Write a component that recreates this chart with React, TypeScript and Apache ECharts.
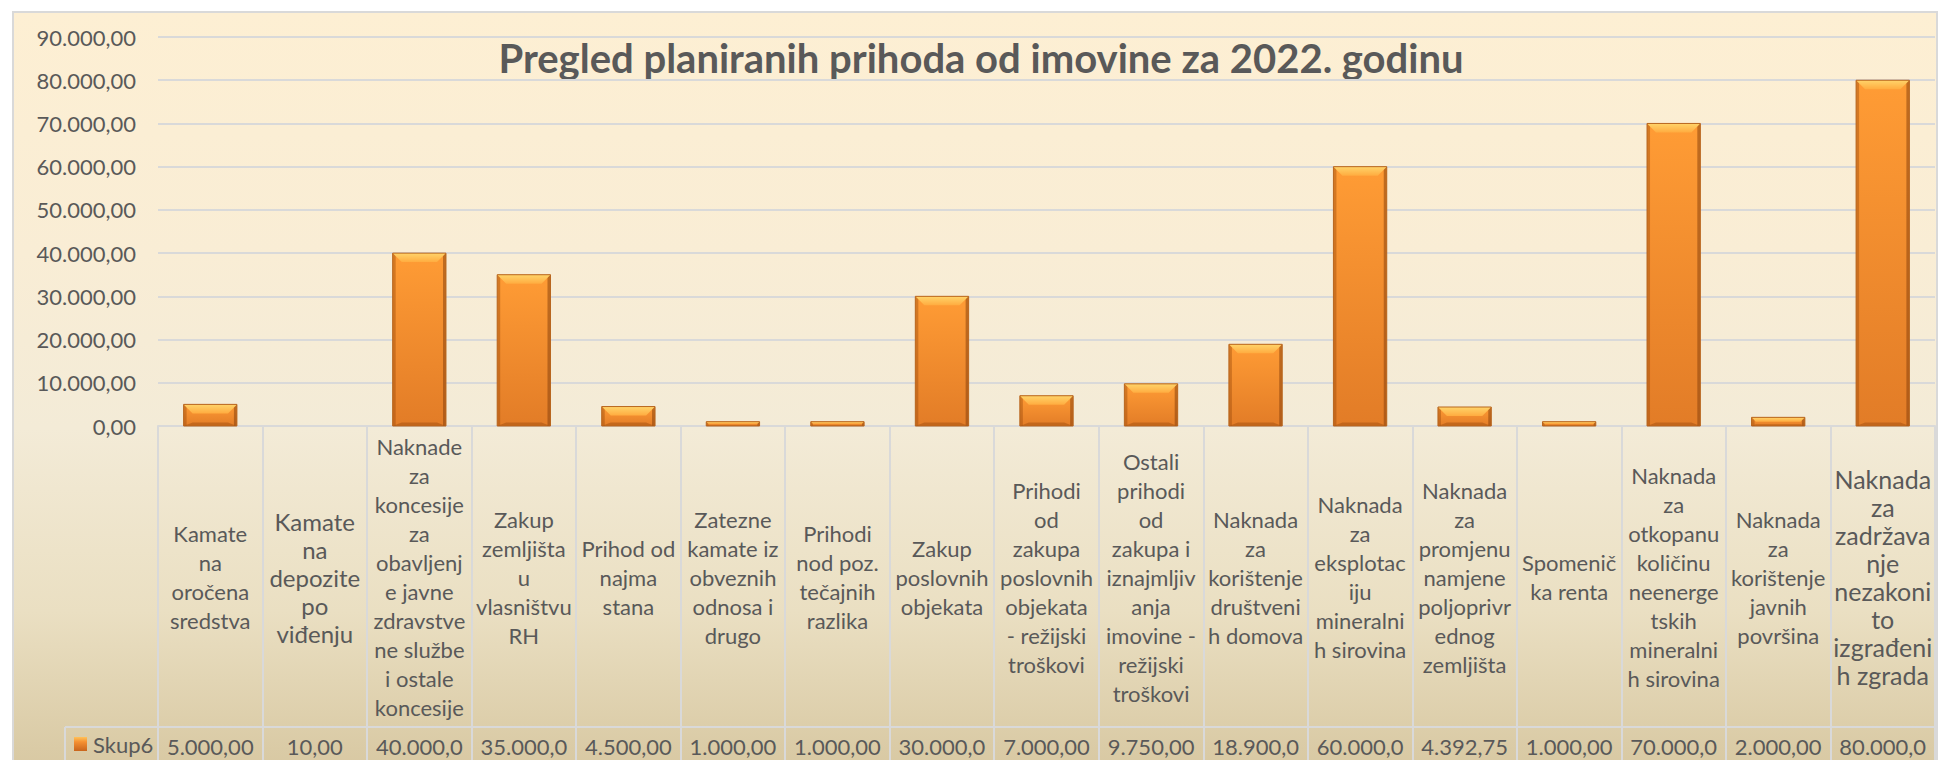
import React, { useEffect, useRef } from 'react';
import * as echarts from 'echarts';

// ---------- data ----------
const TITLE = 'Pregled planiranih prihoda od imovine za 2022. godinu';
const SERIES_NAME = 'Skup6';

const categories: string[] = [
  'Kamate\nna\noročena\nsredstva',
  'Kamate\nna\ndepozite\npo\nviđenju',
  'Naknade\nza\nkoncesije\nza\nobavljenj\ne javne\nzdravstve\nne službe\ni ostale\nkoncesije',
  'Zakup\nzemljišta\nu\nvlasništvu\nRH',
  'Prihod od\nnajma\nstana',
  'Zatezne\nkamate iz\nobveznih\nodnosa i\ndrugo',
  'Prihodi\nnod poz.\ntečajnih\nrazlika',
  'Zakup\nposlovnih\nobjekata',
  'Prihodi\nod\nzakupa\nposlovnih\nobjekata\n- režijski\ntroškovi',
  'Ostali\nprihodi\nod\nzakupa i\niznajmljiv\nanja\nimovine -\nrežijski\ntroškovi',
  'Naknada\nza\nkorištenje\ndruštveni\nh domova',
  'Naknada\nza\neksplotac\niju\nmineralni\nh sirovina',
  'Naknada\nza\npromjenu\nnamjene\npoljoprivr\nednog\nzemljišta',
  'Spomenič\nka renta',
  'Naknada\nza\notkopanu\nkoličinu\nneenerge\ntskih\nmineralni\nh sirovina',
  'Naknada\nza\nkorištenje\njavnih\npovršina',
  'Naknada\nza\nzadržava\nnje\nnezakoni\nto\nizgrađeni\nh zgrada',
];

const values: number[] = [
  5000, 10, 40000, 35000, 4500, 1000, 1000, 30000, 7000, 9750, 18900, 60000, 4392.75, 1000, 70000, 2000, 80000,
];

const Y_MIN = 0;
const Y_MAX = 90000;
const Y_STEP = 10000;

// ---------- style ----------
const FONT = 'Lato';
const TEXT = '#595959';
const LINE = '#D9D9D9';
const LABEL_SIZE = 22;
const BIG_LABELS: Record<number, number> = { 1: 24, 16: 25 };
const BAR_RATIO = 0.51;

function fmtHr(v: number): string {
  const [int, dec] = v.toFixed(2).split('.');
  return int.replace(/\B(?=(\d{3})+(?!\d))/g, '.') + ',' + dec;
}
// the data-table cell clips text that is wider than the cell
const cellText = (v: number) => fmtHr(v).slice(0, 8);

const grad = (stops: [number, string][], horizontal = false) =>
  new echarts.graphic.LinearGradient(0, 0, horizontal ? 1 : 0, horizontal ? 0 : 1,
    stops.map(([offset, color]) => ({ offset, color })));

function renderBar(_params: any, api: any) {
  const idx = api.value(0);
  const v = api.value(1);
  const top = api.coord([idx, v]);
  const base = api.coord([idx, 0]);
  const w = api.size([1, 0])[0] * BAR_RATIO;
  const x = top[0] - w / 2;
  const y = top[1];
  const h = base[1] - top[1];
  if (h < 0.6) return { type: 'group', children: [] };
  const bev = Math.min(9, h / 2);
  const side = Math.min(3, h / 2);
  return {
    type: 'group',
    children: [
      {
        type: 'rect',
        shape: { x, y, width: w, height: h },
        style: { fill: grad([[0, '#FF9C35'], [1, '#E27C27']]) },
      },
      {
        type: 'rect',
        shape: { x, y, width: side, height: h },
        style: { fill: 'rgba(150,70,10,0.4)' },
      },
      {
        type: 'rect',
        shape: { x: x + w - side, y, width: side, height: h },
        style: { fill: 'rgba(130,60,10,0.5)' },
      },
      {
        type: 'polygon',
        shape: { points: [[x, y + h], [x + bev, y + h - bev * 0.4], [x + w - bev, y + h - bev * 0.4], [x + w, y + h]] },
        style: { fill: 'rgba(120,50,0,0.3)' },
      },
      {
        type: 'polygon',
        shape: { points: [[x, y], [x + w, y], [x + w - bev, y + bev], [x + bev, y + bev]] },
        style: { fill: grad([[0, '#FFD46A'], [1, '#FFAC40']]) },
      },
      {
        type: 'rect',
        shape: { x, y, width: w, height: h },
        style: { fill: 'none', stroke: '#B8661F', lineWidth: 1 },
      },
    ],
  };
}

export default function App() {
  const ref = useRef<HTMLDivElement>(null);

  useEffect(() => {
    if (!ref.current) return;
    const chart = echarts.init(ref.current, undefined, { renderer: 'svg' });

    const labelStyle = { fontFamily: FONT, color: TEXT, fontSize: LABEL_SIZE };
    const catLabelStyle = { ...labelStyle, lineHeight: 29, verticalAlign: 'middle', align: 'center' };

    chart.setOption({
      animation: false,
      backgroundColor: '#FFFFFF',
      textStyle: { fontFamily: FONT },
      grid: { left: 158, right: 5, top: 37, bottom: 334, containLabel: false, outerBoundsMode: 'none' },
      legend: {
        data: [SERIES_NAME],
        left: 74,
        top: 733,
        padding: 0,
        icon: 'rect',
        itemWidth: 13,
        itemHeight: 14,
        textStyle: { ...labelStyle, padding: [0, 0, 0, 1] },
      },
      xAxis: [
        {
          type: 'category',
          data: categories.map((c, i) =>
            BIG_LABELS[i]
              ? { value: c, textStyle: { ...catLabelStyle, fontSize: BIG_LABELS[i], lineHeight: 28 } }
              : c
          ),
          boundaryGap: true,
          axisLine: { show: true, lineStyle: { color: LINE, width: 2 } },
          axisTick: { show: true, interval: 0, length: 334, alignWithLabel: false, lineStyle: { color: LINE, width: 2 } },
          splitLine: { show: false },
          axisLabel: { ...catLabelStyle, interval: 0, margin: 151, hideOverlap: false },
        },
        {
          type: 'category',
          data: values.map(cellText),
          position: 'bottom',
          offset: 301,
          boundaryGap: true,
          axisLine: { show: true, lineStyle: { color: LINE, width: 2 } },
          axisTick: { show: false },
          splitLine: { show: false },
          axisLabel: { ...labelStyle, interval: 0, margin: 19, verticalAlign: 'middle' },
        },
      ],
      yAxis: {
        type: 'value',
        min: Y_MIN,
        max: Y_MAX,
        interval: Y_STEP,
        axisLine: { show: false },
        axisTick: { show: false },
        splitLine: { show: true, lineStyle: { color: LINE, width: 2 } },
        axisLabel: { ...labelStyle, margin: 22, formatter: (v: number) => fmtHr(v) },
      },
      graphic: {
        elements: [
          {
            type: 'rect',
            z: -100,
            silent: true,
            shape: { x: 13, y: 12, width: 1924, height: 800 },
            style: {
              fill: grad([
                [0, '#FDEFD3'],
                [0.3, '#F9EDD5'],
                [0.52, '#F3EBD7'],
                [0.75, '#EADFC2'],
                [0.92, '#DACBA6'],
                [1, '#D4C39B'],
              ]),
              stroke: LINE,
              lineWidth: 2,
            },
          },
          {
            type: 'line',
            silent: true,
            shape: { x1: 65, y1: 727, x2: 158, y2: 727 },
            style: { stroke: LINE, lineWidth: 2 },
          },
          {
            type: 'line',
            silent: true,
            shape: { x1: 65, y1: 727, x2: 65, y2: 770 },
            style: { stroke: LINE, lineWidth: 2 },
          },
          {
            type: 'text',
            x: 981,
            y: 58,
            silent: true,
            style: {
              text: TITLE,
              fill: TEXT,
              font: `bold 40px ${FONT}`,
              textAlign: 'center',
              textVerticalAlign: 'middle',
              align: 'center',
              verticalAlign: 'middle',
            },
          },
        ],
      },
      series: [
        {
          type: 'custom',
          name: SERIES_NAME,
          xAxisIndex: 0,
          yAxisIndex: 0,
          data: values.map((v, i) => [i, v]),
          encode: { x: 0, y: 1 },
          itemStyle: { color: grad([[0, '#FFC25A'], [0.35, '#F59031'], [1, '#C9651C']]) },
          renderItem: renderBar,
        },
      ],
    });

    return () => chart.dispose();
  }, []);

  return (
    <div
      ref={ref}
      style={{ position: 'fixed', left: 0, top: 0, width: 1940, height: 760 }}
    />
  );
}
